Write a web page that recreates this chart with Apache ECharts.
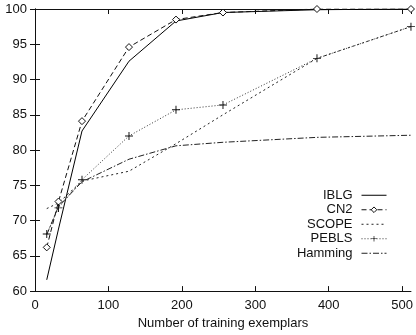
<!DOCTYPE html>
<html>
<head>
<meta charset="utf-8">
<script src="https://cdn.jsdelivr.net/npm/echarts@6/dist/echarts.min.js"></script>
<style>
html,body{margin:0;padding:0;background:#fff;}
#chart{width:416px;height:335px;}
</style>
</head>
<body>
<div id="chart"></div>
<script>
var xValues = [16, 32, 64, 128, 192, 256, 384, 512];
var iblg    = [61.6, 68.8, 82.7, 92.6, 98.3, 99.5, 99.9, 100];
var cn2     = [66.2, 72.7, 84.1, 94.6, 98.5, 99.5, 100, 100];
var scope   = [71.7, 72.5, 75.6, 77.0, 80.9, 85.0, 93.0, 97.5];
var pebls   = [68.1, 71.8, 75.8, 82.0, 85.7, 86.4, 93.0, 97.5];
var hamming = [68.0, 72.0, 75.5, 78.7, 80.6, 81.1, 81.8, 82.1];
var seriesNames = ['IBLG', 'CN2', 'SCOPE', 'PEBLS', 'Hamming'];
var xTitle = 'Number of training exemplars';

function pairs(ys) { return xValues.map(function (x, i) { return [x, ys[i]]; }); }

var font = 'Liberation Sans, Arial, Helvetica, sans-serif';
var ink = '#111';
var plusPath = 'path://M4.4,0 H5.6 V4.4 H10 V5.6 H5.6 V10 H4.4 V5.6 H0 V4.4 H4.4 Z';
var noMark = {color: 'rgba(0,0,0,0)', borderColor: 'rgba(0,0,0,0)', borderWidth: 0};

var chart = echarts.init(document.getElementById('chart'), null, {renderer: 'canvas'});
var axisCommon = {
  axisLine: {show: true, lineStyle: {color: ink, width: 1}},
  axisTick: {show: true, inside: true, length: 5, lineStyle: {color: ink}},
  splitLine: {show: false}
};
chart.setOption({
  animation: false,
  backgroundColor: '#fff',
  grid: {left: 35, right: 1, top: 9, bottom: 38, containLabel: false},
  legend: {
    data: [
      {name: 'IBLG', itemStyle: noMark},
      {name: 'CN2', itemStyle: {borderWidth: 1}},
      {name: 'SCOPE', itemStyle: noMark},
      {name: 'PEBLS'},
      {name: 'Hamming', itemStyle: noMark}
    ],
    orient: 'vertical',
    right: 29,
    top: 188,
    align: 'right',
    itemWidth: 25,
    itemHeight: 7,
    itemGap: 0,
    padding: 0,
    lineStyle: {width: 1},
    textStyle: {fontFamily: font, fontSize: 13, color: ink, lineHeight: 14.5, padding: [0, 4, 0, 0]}
  },
  xAxis: [
    Object.assign({}, axisCommon, {
      type: 'value', min: 0, max: 512, interval: 100, position: 'bottom',
      name: xTitle, nameLocation: 'middle', nameGap: 21,
      nameTextStyle: {fontFamily: font, fontSize: 13, color: ink},
      axisLabel: {fontFamily: font, fontSize: 13, color: ink, margin: 8, showMaxLabel: false}
    }),
    Object.assign({}, axisCommon, {
      type: 'value', min: 0, max: 512, interval: 100, position: 'top',
      axisLabel: {show: false}
    })
  ],
  yAxis: [
    Object.assign({}, axisCommon, {
      type: 'value', min: 60, max: 100, interval: 5, position: 'left',
      axisLabel: {fontFamily: font, fontSize: 13, color: ink, margin: 8}
    }),
    Object.assign({}, axisCommon, {
      type: 'value', min: 60, max: 100, interval: 5, position: 'right',
      axisLabel: {show: false}
    })
  ],
  series: [
    {name: 'IBLG', type: 'line', data: pairs(iblg), symbol: 'circle', showSymbol: false,
     lineStyle: {color: '#000', width: 1, type: 'solid'}, itemStyle: {color: '#000'}},
    {name: 'CN2', type: 'line', data: pairs(cn2), symbol: 'diamond', symbolSize: 7,
     lineStyle: {color: '#111', width: 1, type: [5, 3]},
     itemStyle: {color: '#fff', borderColor: '#111', borderWidth: 1}},
    {name: 'SCOPE', type: 'line', data: pairs(scope), symbol: 'circle', showSymbol: false,
     lineStyle: {color: '#222', width: 1, type: [2, 3]}, itemStyle: {color: '#222'}},
    {name: 'PEBLS', type: 'line', data: pairs(pebls), symbol: plusPath, symbolSize: 8,
     lineStyle: {color: '#333', width: 1, type: [1, 2]}, itemStyle: {color: '#111'}},
    {name: 'Hamming', type: 'line', data: pairs(hamming), symbol: 'circle', showSymbol: false,
     lineStyle: {color: '#222', width: 1, type: [6, 2, 1.5, 2]}, itemStyle: {color: '#222'}}
  ]
});
</script>
</body>
</html>
